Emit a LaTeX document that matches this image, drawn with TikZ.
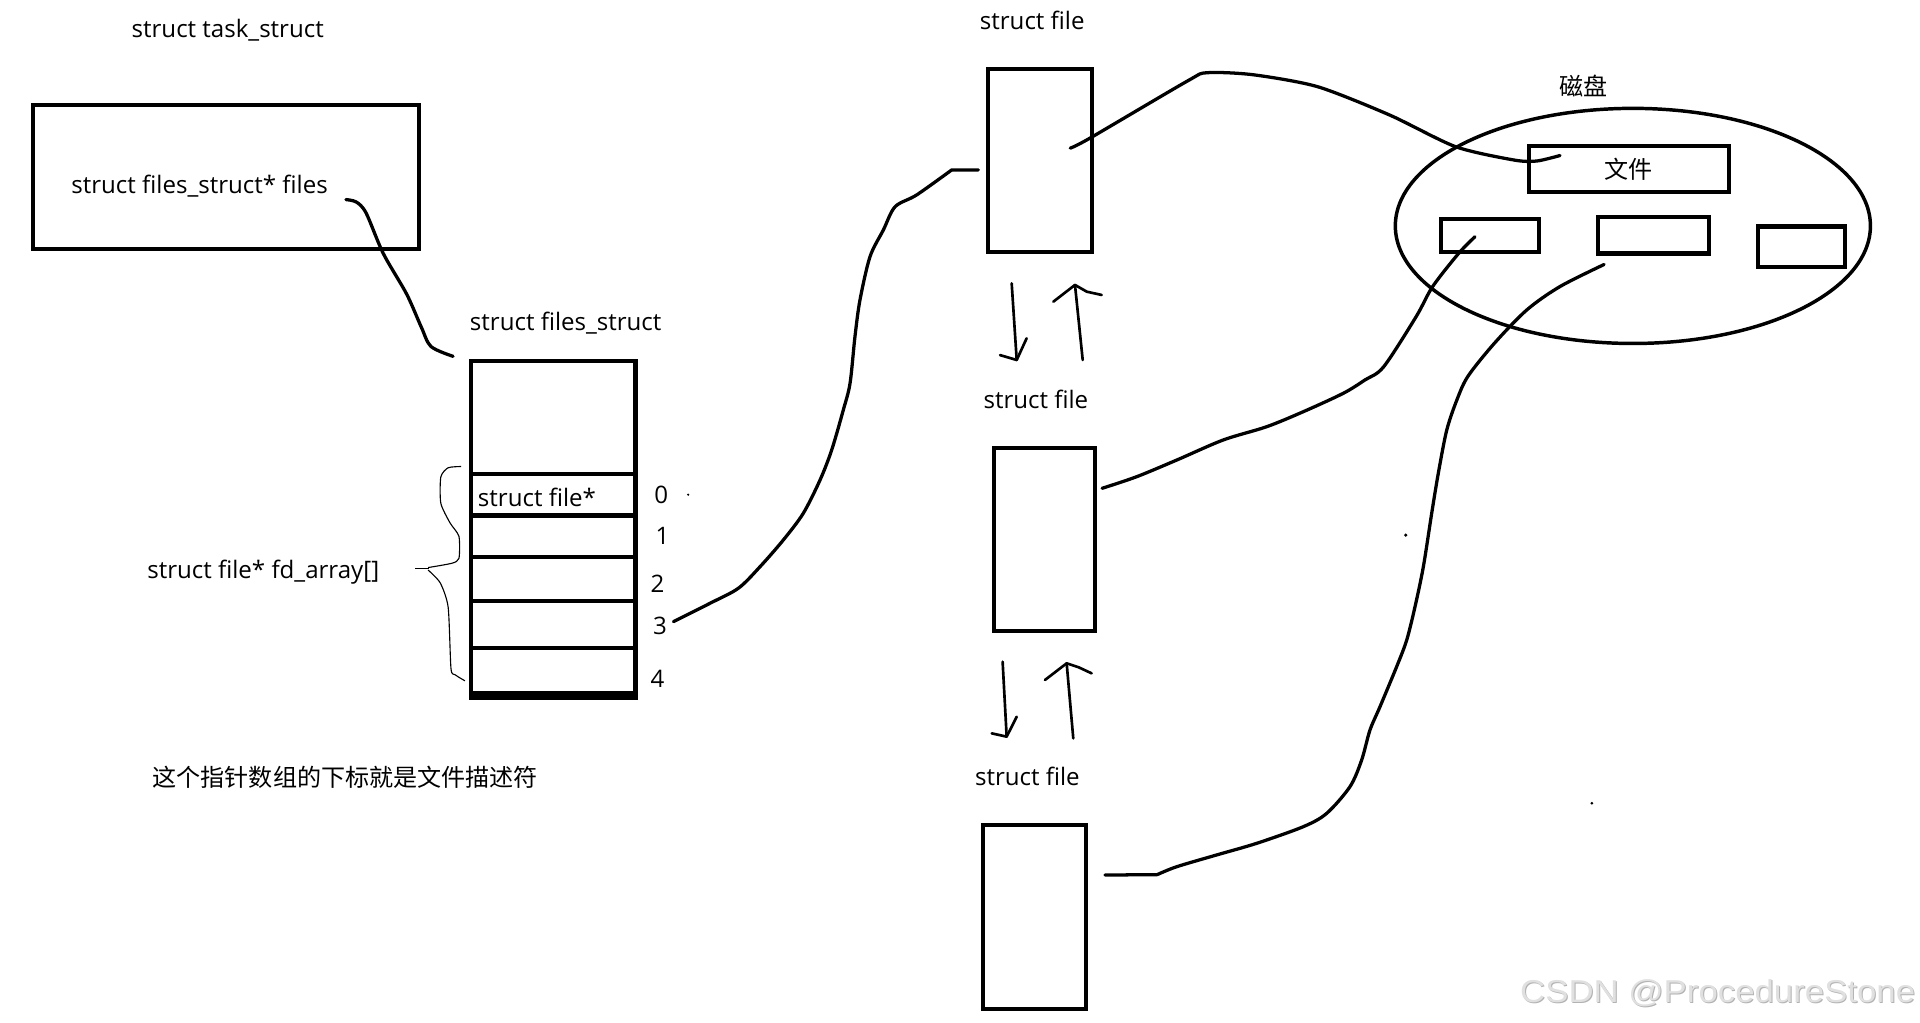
\documentclass[tikz,border=0pt]{standalone}
\usepackage{fontspec}
\setmainfont{Open Sans}
\newfontfamily\cjkfont{Noto Sans CJK SC}
\newfontfamily\wmfont{Liberation Sans}
\usetikzlibrary{fit,shapes.geometric}
\begin{document}
\begin{tikzpicture}[x=0.6pt,y=-0.6pt,
  box/.style={draw, line width=2pt, inner sep=0pt, outer sep=0pt},
  lbl/.style={inner sep=0pt, font=\fontsize{11.8}{14}\selectfont},
  cjk/.style={inner sep=0pt, font=\cjkfont\fontsize{11.8}{14}\selectfont},
  wire/.style={line width=1.6pt, line cap=round, line join=round},
  harrow/.style={line width=1.3pt, line cap=round, line join=round},
  bracepath/.style={line width=0.55pt, line join=round},
]
\useasboundingbox (0,0) rectangle (1568,835);

% ---- task_struct ----
\node[lbl] (ttask) at (186,25) {struct task\_struct};
\node[box, fit={(27,86)(342,203)}] (tsk) {};
\node[lbl] (tfiles) at (163,152) {struct files\_struct* files};

% ---- files_struct ----
\node[lbl] (tfs) at (462,264) {struct files\_struct};
\node[box, fit={(385,295)(519,568)}] (fs) {};
\node[box, fit={(385,387)(519,421)}] (r0) {};
\node[box, fit={(385,421)(519,455)}] (r1) {};
\node[box, fit={(385,455)(519,491)}] (r2) {};
\node[box, fit={(385,491)(519,529)}] (r3) {};
\node[box, fit={(385,529)(519,568)}] (r4) {};
\draw[line width=4pt] ([xshift=-1pt]r4.south west) -- ([xshift=1pt]r4.south east);
\node[lbl, anchor=west] (tsf) at (390,406) {struct file*};
\node[lbl] (i0) at (540,404) {0};
\node[lbl] (i1) at (541,438) {1};
\node[lbl] (i2) at (537,477) {2};
\node[lbl] (i3) at (539,511) {3};
\node[lbl] (i4) at (537,554) {4};
\fill (562,404) circle (0.6pt);

% brace
\draw[bracepath] plot[smooth, tension=0.4] coordinates {(376.6,381) (366,382) (360,389.5) (360,411) (367.5,427) (374.8,438) (374.8,456) (369,460) (349.6,463.5)};
\coordinate (btip) at (339,464.5);
\draw[bracepath] (btip) -- (350,464.5);
\draw[bracepath] plot[smooth, tension=0.4] coordinates {(349.6,465.5) (359.5,476) (366,496) (368.3,546) (371.6,551) (379.7,556)};
\node[lbl] (tfd) at (215,467) {struct file* fd\_array[]};
\node[cjk] (tnote) at (282,635) {这个指针数组的下标就是文件描述符};

% ---- struct file column ----
\node[lbl] (tsf1) at (843,17) {struct file};
\node[box, fit={(807,56)(892,206)}] (sf1) {};
\node[lbl] (tsf2) at (846,326) {struct file};
\node[box, fit={(812,366)(894,515)}] (sf2) {};
\node[lbl] (tsf3) at (839,634) {struct file};
\node[box, fit={(803,674)(887,824)}] (sf3) {};

% arrows between struct files
\coordinate (a1s) at (826.2,231.4); \coordinate (a1e) at (830.3,294);
\draw[harrow] (a1s) -- (a1e);
\draw[harrow] (816.7,290) -- (a1e) -- (838.4,276.3);
\coordinate (b1s) at (884.2,294); \coordinate (b1e) at (877.9,232.7);
\draw[harrow] (b1s) -- (b1e);
\draw[harrow] (860.2,246.4) -- (b1e) -- (887.5,238.2) -- (899.7,240.9);
\coordinate (a2s) at (818.8,540.4); \coordinate (a2e) at (822.1,601.6);
\draw[harrow] (a2s) -- (a2e);
\draw[harrow] (809.9,598.9) -- (a2e) -- (830.3,585.3);
\coordinate (b2s) at (876.5,603); \coordinate (b2e) at (871.1,541.7);
\draw[harrow] (b2s) -- (b2e);
\draw[harrow] (853.4,555.3) -- (b2e) -- (881,545) -- (891.5,549.9);

% ---- disk ----
\node[cjk] (tdisk) at (1293,70) {磁盘};
\node[draw, ellipse, line width=1.7pt, inner sep=0pt, minimum width=232.8pt, minimum height=115.2pt] (disk) at (1333.5,184.5) {};
\node[box, fit={(1249,119)(1412,157)}] (fileb) {};
\node[cjk] (tfile) at (1330,138) {文件};
\node[box, fit={(1177,179)(1257,206)}] (d1) {};
\node[box, fit={(1305,177)(1396,207)}] (d2) {};
\node[box, fit={(1436,185)(1507,218)}] (d3) {};

% ---- connectors ----
\coordinate (pf) at (282.5,163);
\coordinate (fsin) at (370,291);
\draw[wire] plot[smooth, tension=0.5] coordinates {(pf) (291,165) (299,174) (313,207) (332,240) (344,267) (352,283) (fsin)};

\coordinate (c3) at (550,507.7);
\coordinate (sf1in) at (799,138.8);
\draw[wire] plot[smooth, tension=0.5] coordinates {(c3) (579.8,492.7) (603,480.4) (620.7,462.8) (639.7,441) (656,419.2) (669.7,392) (679.2,367.5) (688.7,334.8) (694.2,313) (698.2,275) (702.3,245) (710.5,209.6) (721.4,187.8) (731,168.8) (748.6,159.2) (777.2,138.8)} -- (sf1in);

\coordinate (sf1out) at (874,121);
\coordinate (filein) at (1274,127);
\draw[wire] plot[smooth, tension=0.45] coordinates {(sf1out) (889.8,113) (970,66) (985.7,59.4) (1023,61) (1076,70.8) (1135,94) (1188.7,119.8) (1236.5,130.7) (1255,131.5) (filein)};

\coordinate (sf2out) at (900,398.8);
\coordinate (d1in) at (1204.6,193.3);
\draw[wire] plot[smooth, tension=0.5] coordinates {(sf2out) (928.3,389.3) (961,375.7) (999,359.3) (1034.4,348.5) (1064.4,336.2) (1097,321.2) (1114.7,310.3) (1130,299.5) (1156.5,258.6) (1170,234) (1191.4,206.7) (d1in)};

\coordinate (sf3out) at (902.4,714.6);
\coordinate (d2in) at (1310,216);
\draw[wire] (sf3out) -- (945,714.3) plot[smooth, tension=0.5] coordinates {(945,714.3) (961,707.8) (993.6,698.2) (1026.3,688.7) (1064.4,675.1) (1083.5,664.2) (1102.5,642.4) (1112,620.7) (1118.8,596.2) (1127,577.1) (1140.6,544.4) (1148.8,522.7) (1155.6,495.4) (1162.4,462.8) (1169.2,419.2) (1174.6,386.5) (1181.5,351.2) (1190,326) (1199,307) (1220.7,280) (1247,253) (1274,234) (d2in)};

\fill (1148,437) circle (0.9pt);
\fill (1300,656) circle (0.7pt);

% ---- watermark ----
\node[inner sep=0pt, text=black!30, font=\wmfont\fontsize{15.5}{18}\selectfont] (wm2) at (1403.6,811.6) {\scalebox{1.1}[1]{CSDN @ProcedureStone}};
\node[inner sep=0pt, text=black!12, font=\wmfont\fontsize{15.5}{18}\selectfont] (wm) at (1402.8,810.8) {\scalebox{1.1}[1]{CSDN @ProcedureStone}};
\end{tikzpicture}
\end{document}
